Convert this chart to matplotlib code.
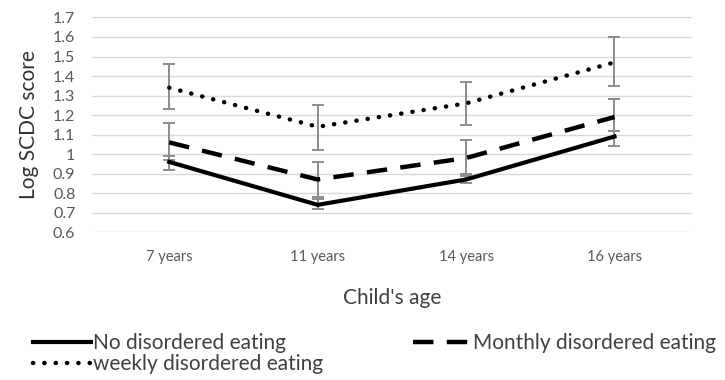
"""Log SCDC score by child's age for three disordered-eating groups."""

import matplotlib.pyplot as plt
from matplotlib.ticker import FuncFormatter, MultipleLocator

AGES = ["7 years", "11 years", "14 years", "16 years"]

NONE_MEAN = [0.96, 0.74, 0.87, 1.09]
NONE_LOW = [0.92, 0.72, 0.85, 1.04]
NONE_HIGH = [0.99, 0.77, 0.90, 1.12]

MONTHLY_MEAN = [1.06, 0.87, 0.98, 1.19]
MONTHLY_LOW = [0.97, 0.78, 0.89, 1.12]
MONTHLY_HIGH = [1.16, 0.96, 1.07, 1.28]

WEEKLY_MEAN = [1.34, 1.14, 1.26, 1.47]
WEEKLY_LOW = [1.23, 1.02, 1.15, 1.35]
WEEKLY_HIGH = [1.46, 1.25, 1.37, 1.60]

plt.rcParams["font.family"] = ["Lato", "DejaVu Sans"]

fig = plt.figure(figsize=(7.25, 3.8), dpi=100)
ax = fig.add_axes([0.127, 0.389, 0.827, 0.565])

x = list(range(len(AGES)))
series = [
    ("No disordered eating", NONE_MEAN, NONE_LOW, NONE_HIGH,
     dict(linestyle="-", linewidth=3.0)),
    ("Monthly disordered eating", MONTHLY_MEAN, MONTHLY_LOW, MONTHLY_HIGH,
     dict(linestyle=(0, (4.6, 3.0)), linewidth=3.2)),
    ("weekly disordered eating", WEEKLY_MEAN, WEEKLY_LOW, WEEKLY_HIGH,
     dict(linestyle=(0, (0.05, 2.5)), linewidth=3.2, dash_capstyle="round")),
]

handles = {}
for label, mean, low, high, style in series:
    yerr = [[m - lo for m, lo in zip(mean, low)],
            [hi - m for m, hi in zip(mean, high)]]
    ax.errorbar(x, mean, yerr=yerr, fmt="none", ecolor="#8c8c8c",
                elinewidth=1.4, capsize=4, capthick=1.4, zorder=2)
    (line,) = ax.plot(x, mean, color="black", zorder=3, label=label, **style)
    handles[label] = line

ax.set_xlim(-0.52, 3.52)
ax.set_ylim(0.6, 1.7)
ax.yaxis.set_major_locator(MultipleLocator(0.1))
ax.yaxis.set_major_formatter(FuncFormatter(lambda v, _: f"{v:.1f}".rstrip("0").rstrip(".")))
ax.grid(axis="y", color="#d9d9d9", linewidth=1.0, zorder=0)
ax.set_axisbelow(True)
for spine in ax.spines.values():
    spine.set_visible(False)
ax.tick_params(length=0)
ax.tick_params(axis="y", labelsize=11.5, colors="#595959", pad=12)
ax.tick_params(axis="x", labelsize=10.5, colors="#595959", pad=13)
ax.set_xticks(x)
ax.set_xticklabels(AGES)

ax.set_ylabel("Log SCDC score", fontsize=15, color="#333333")
ax.yaxis.set_label_coords(-0.088, 0.5)
ax.set_xlabel("Child's age", fontsize=15, color="#404040", labelpad=17)

order = ["No disordered eating", "weekly disordered eating", "Monthly disordered eating"]
fig.legend([handles[k] for k in order], order, loc="upper left",
           bbox_to_anchor=(0.045, 0.124), ncol=2, frameon=False,
           fontsize=15, handlelength=2.8, handletextpad=0.1,
           columnspacing=4.3, labelspacing=0.05, borderpad=0, borderaxespad=0,
           labelcolor="#404040")

fig.savefig("out.png", dpi=100, facecolor="white")
